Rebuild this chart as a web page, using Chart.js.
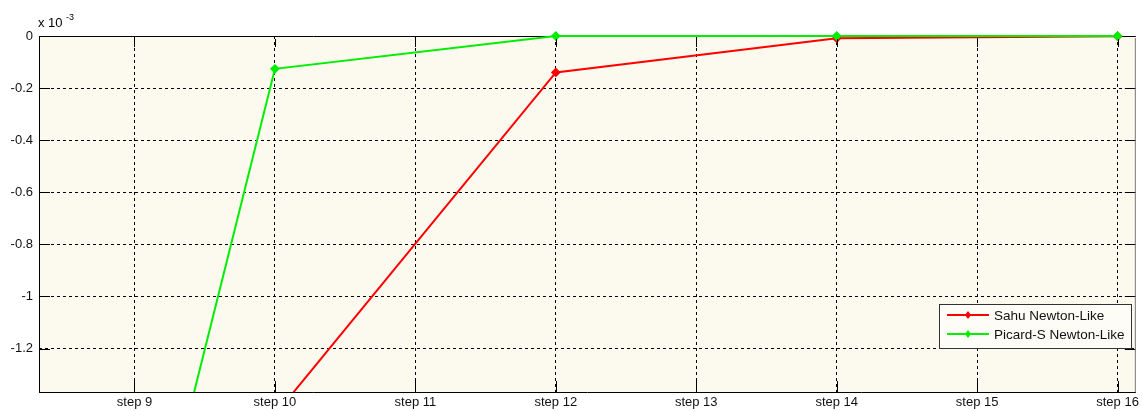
<!DOCTYPE html>
<html>
<head>
<meta charset="utf-8">
<script src="https://cdn.jsdelivr.net/npm/chart.js@4.4.1/dist/chart.umd.min.js"></script>
<style>
  html, body { margin: 0; padding: 0; background: #fff; }
  #wrap { width: 1142px; height: 411px; }
</style>
</head>
<body>
<div id="wrap"><canvas id="grafica" width="1142" height="411"></canvas></div>
<script>
// steps where the solvers report (values in units of 1e-3)
const pasos = [8, 10, 12, 14, 16];
const sahu = [null, -1.455, -0.14, -0.009, -0.001];
const picard = [-4.44, -0.126, 0, 0, 0];
const tickPasos = [9, 10, 11, 12, 13, 14, 15, 16];
const tickY = [0, -0.2, -0.4, -0.6, -0.8, -1, -1.2];

const familia = '"Liberation Sans", Arial, sans-serif';

function puntos(vals) {
  return pasos.map((p, i) => ({ x: p, y: vals[i] }));
}

const marcoPlugin = {
  id: 'marco',
  beforeDraw(chart) {
    const a = chart.chartArea, c = chart.ctx;
    c.save();
    c.fillStyle = '#fcf9ef';
    c.fillRect(a.left, a.top, a.right - a.left, a.bottom - a.top);
    // frame under the lines
    c.strokeStyle = '#000';
    c.lineWidth = 1;
    c.beginPath();
    c.moveTo(a.left + 0.5, a.bottom); c.lineTo(a.left + 0.5, a.top + 0.5);
    c.lineTo(a.right, a.top + 0.5);
    c.stroke();
    c.restore();
  },
  afterDatasetsDraw(chart) {
    const a = chart.chartArea, c = chart.ctx;
    const xs = chart.scales.x, ys = chart.scales.y;
    c.save();
    c.strokeStyle = '#000';
    c.lineWidth = 1;
    // tick marks inside the box
    c.beginPath();
    tickPasos.forEach(p => {
      const px = Math.round(xs.getPixelForValue(p)) + 0.5;
      c.moveTo(px, a.bottom); c.lineTo(px, a.bottom - 11);
      c.moveTo(px, a.top + 3); c.lineTo(px, a.top + 11);
    });
    tickY.forEach(v => {
      const py = Math.round(ys.getPixelForValue(v)) + 0.5;
      if (v === 0) return;
      c.moveTo(a.left, py); c.lineTo(a.left + 11, py);
      c.moveTo(a.right, py); c.lineTo(a.right - 11, py);
    });
    c.stroke();
    c.beginPath();
    c.moveTo(a.left, a.bottom + 0.5); c.lineTo(a.right, a.bottom + 0.5);
    c.stroke();
    c.strokeStyle = '#777';
    c.beginPath();
    c.moveTo(a.right - 0.5, a.top + 2); c.lineTo(a.right - 0.5, a.bottom);
    c.stroke();
    // exponent label
    c.fillStyle = '#000';
    c.font = '13px ' + familia;
    c.textBaseline = 'alphabetic';
    c.fillText('x 10', 38, 27);
    c.font = '9px ' + familia;
    c.fillText('-3', 66, 20);

    // legend
    const lx = 939, ly = 304, lw = 192, lh = 44;
    c.fillStyle = '#fdfcf7';
    c.fillRect(lx, ly, lw, lh);
    c.strokeStyle = '#333';
    c.strokeRect(lx + 0.5, ly + 0.5, lw, lh);
    chart.data.datasets.forEach((ds, i) => {
      const yy = ly + 11 + i * 19;
      c.strokeStyle = ds.borderColor;
      c.lineWidth = 2;
      c.beginPath();
      c.moveTo(lx + 8, yy); c.lineTo(lx + 50, yy);
      c.stroke();
      c.fillStyle = ds.borderColor;
      c.beginPath();
      c.moveTo(lx + 29, yy - 4); c.lineTo(lx + 32, yy);
      c.lineTo(lx + 29, yy + 4); c.lineTo(lx + 26, yy);
      c.closePath(); c.fill();
      c.fillStyle = '#111';
      c.font = '13.5px ' + familia;
      c.textBaseline = 'middle';
      c.fillText(ds.label, lx + 55, yy + 1);
    });
    c.restore();
  }
};

const recorte = { left: 0, top: 5, right: 5, bottom: 0 };

const ctx = document.getElementById('grafica').getContext('2d');
new Chart(ctx, {
  type: 'line',
  data: {
    datasets: [{
      label: 'Sahu Newton-Like',
      data: puntos(sahu),
      borderColor: '#ff0000',
      backgroundColor: '#ff0000',
      borderWidth: 2,
      pointStyle: 'rectRot',
      pointRadius: 3.5,
      tension: 0,
      clip: recorte,
      order: 2
    }, {
      label: 'Picard-S Newton-Like',
      data: puntos(picard),
      borderColor: '#00ee00',
      backgroundColor: '#00ee00',
      borderWidth: 2,
      pointStyle: 'rectRot',
      pointRadius: 3.5,
      tension: 0,
      clip: recorte,
      order: 1
    }]
  },
  options: {
    animation: false,
    responsive: false,
    layout: { padding: { top: 36, right: 5, left: 0, bottom: 0 } },
    plugins: { legend: { display: false }, tooltip: { enabled: false } },
    scales: {
      x: {
        type: 'linear',
        min: 8.32,
        max: 16.13,
        afterBuildTicks: s => { s.ticks = tickPasos.map(v => ({ value: v })); },
        afterFit: s => { s.height = 19; },
        ticks: {
          callback: v => 'step ' + v,
          color: '#111',
          font: { family: familia, size: 13 },
          padding: 3,
          maxRotation: 0,
          autoSkip: false
        },
        grid: { color: '#000', drawTicks: false, lineWidth: 1 },
        border: { display: false, dash: [3, 3] }
      },
      y: {
        min: -1.367,
        max: 0,
        afterBuildTicks: s => { s.ticks = tickY.map(v => ({ value: v })); },
        afterFit: s => { s.width = 39; },
        ticks: {
          callback: v => (v === 0 ? '0' : String(Math.round(v * 10) / 10)),
          color: '#111',
          font: { family: familia, size: 13 },
          padding: 6
        },
        grid: { color: '#000', drawTicks: false, lineWidth: 1 },
        border: { display: false, dash: [3, 3] }
      }
    }
  },
  plugins: [marcoPlugin]
});
</script>
</body>
</html>
